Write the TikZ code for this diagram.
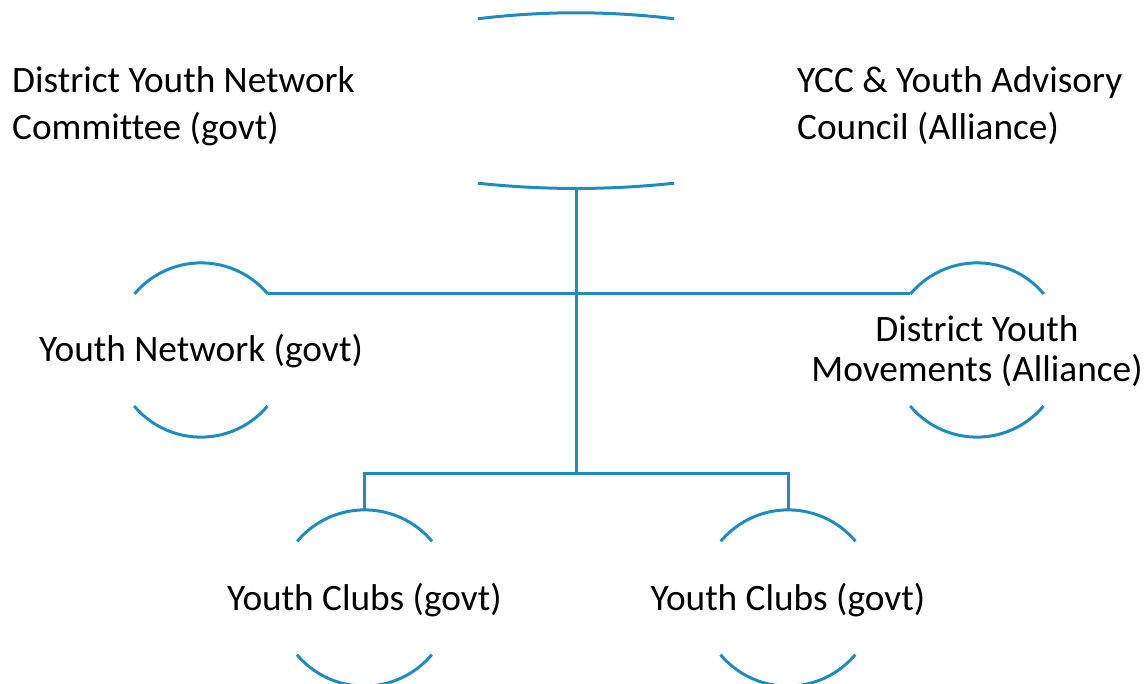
\documentclass[tikz,border=0pt]{standalone}
\usepackage{fontspec}
\setmainfont{Carlito}[Ligatures=NoCommon]
\definecolor{linkblue}{RGB}{31,139,190}
\begin{document}
\begin{tikzpicture}[x=1pt,y=1pt,
  rim/.style={draw=linkblue, line width=3pt},
  link/.style={draw=linkblue, line width=3pt},
  ring/.style={circle, inner sep=0pt, minimum size=174pt},
  label/.style={inner sep=0pt, text=black, font=\fontsize{37.3}{47}\selectfont}]
\useasboundingbox (0,0) rectangle (1146,683);
\clip (0,0) rectangle (1146,683);

% shapes (outline only, drawn as arcs below)
\node[rectangle, inner sep=0pt, minimum width=196pt, minimum height=164pt] (head) at (576,582) {};
\node[ring] (netL)  at (201,333) {};
\node[ring] (moveR) at (977,333) {};
\node[ring, minimum size=176pt] (clubL) at (364.5,85) {};
\node[ring, minimum size=176pt] (clubR) at (788,85) {};

% top shape: two shallow arcs
\draw[rim] (head.north west) .. controls +(65,8) and +(-65,8) .. (head.north east);
\draw[rim] (head.south west) .. controls +(65,-7) and +(-65,-7) .. coordinate[pos=0.5] (headBase) (head.south east);

% circle arcs
\foreach \c/\r in {netL/87, moveR/87, clubL/88, clubR/88}{
  \draw[rim] (\c.40) arc[start angle=40, end angle=140, radius=\r];
  \draw[rim] (\c.220) arc[start angle=220, end angle=320, radius=\r];
}

% connectors
\coordinate (hub) at (headBase |- 0,209);
\draw[link] (headBase) -- (hub);
\draw[link] (netL.40) -- (moveR.140);
\draw[link] (clubL.north) |- (hub) -| (clubR.north);

% labels
\node[label, anchor=base west] (lblDYN) at (12,590)
  {\begin{tabular}[t]{@{}l@{}}District Youth Network\\Committee (govt)\end{tabular}};
\node[label, anchor=base west] (lblYCC) at (797,590)
  {\begin{tabular}[t]{@{}l@{}}YCC \& Youth Advisory\\Council (Alliance)\end{tabular}};
\node[label, anchor=base] (lblNet) at (201,321) {Youth Network (govt)};
\node[label, anchor=base, font=\fontsize{37.3}{40.3}\selectfont] (lblMove) at (977,341.5)
  {\begin{tabular}[t]{@{}c@{}}District Youth\\Movements (Alliance)\end{tabular}};
\node[label, anchor=base] (lblClubL) at (364.5,73) {Youth Clubs (govt)};
\node[label, anchor=base] (lblClubR) at (788,73) {Youth Clubs (govt)};
\end{tikzpicture}
\end{document}
